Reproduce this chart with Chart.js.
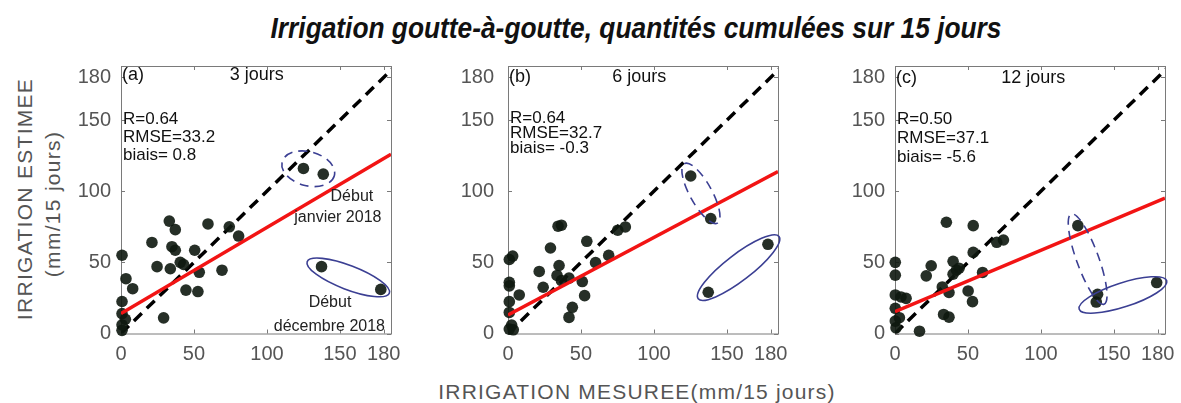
<!DOCTYPE html>
<html>
<head>
<meta charset="UTF-8">
<title>Irrigation goutte-à-goutte</title>
<script src="https://cdn.jsdelivr.net/npm/chart.js"></script>
<style>
    body {
        margin: 0;
        width: 1181px;
        height: 403px;
        background: #fff;
        position: relative;
        overflow: hidden;
        font-family: "Liberation Sans", Arial, sans-serif;
    }
    canvas { position: absolute; top: 0; }
    #title {
        position: absolute; left: 636px; top: 11px; white-space: nowrap;
        line-height: 30px; color: #111;
        font: italic bold 30px "Liberation Sans", sans-serif;
        transform: translateX(-50%) scaleX(0.877);
    }
    .ytitle {
        position: absolute; color: #555; font-size: 21px; letter-spacing: 1.3px; white-space: nowrap;
        transform: translate(-50%, -50%) rotate(-90deg);
    }
    #xtitle {
        position: absolute; left: 637px; top: 392px; color: #555; font-size: 21px; letter-spacing: 1.2px;
        white-space: nowrap; transform: translate(-50%, -50%);
    }
</style>
</head>
<body>
<div id="title">Irrigation goutte-à-goutte, quantités cumulées sur 15 jours</div>
<div class="ytitle" style="left:25px; top:199px">IRRIGATION ESTIMEE</div>
<div class="ytitle" style="left:53px; top:204px">(mm/15 jours)</div>
<div id="xtitle">IRRIGATION MESUREE(mm/15 jours)</div>

<canvas id="chart-a" width="370" height="403"></canvas>
<canvas id="chart-b" width="370" height="403"></canvas>
<canvas id="chart-c" width="370" height="403"></canvas>

<script>
    // graduations communes aux deux axes
    const ticksXY = [0, 50, 100, 150, 180];

    // (a) cumul 3 jours : mesuré / estimé
    const mesure3j = [0.7, 3.4, 8, 0.7, 0.7, 3, 0.7, 0.7, 29.2, 21.2, 24.7, 33.1, 37.2, 34.9, 37.2, 33.8,
        40.6, 42.9, 50.5, 53.6, 44.5, 52.7, 59.6, 69.2, 74.2, 80.6, 125, 138.6, 137.4, 178];
    const estime3j = [55, 38.5, 31.5, 22.5, 14, 10, 6, 2.2, 11, 64, 47, 79, 73, 61, 58.5, 45.5,
        50, 48.5, 58.5, 43, 30.5, 29.5, 77, 44.5, 75, 68.5, 116, 112, 47, 31];

    // (b) cumul 6 jours
    const mesure6j = [3.2, 0.9, 0.9, 0.9, 7.7, 0.9, 0.9, 2.5, 0.9, 3.6, 29.1, 21.4, 24.1, 34.3, 36.6, 35,
        33.6, 36.6, 41.8, 50.9, 52.5, 44.1, 41.8, 54, 60, 69, 75.2, 80.4, 125.2, 138.9, 137.2, 178.1];
    const estime6j = [54.4, 52, 36, 33.5, 27.1, 22.4, 14.8, 5.9, 3.1, 2.6, 60.1, 43.6, 32.5, 75.4, 76.1, 47.8,
        40.8, 37.2, 38.9, 36.5, 26.6, 18.4, 11.3, 64.8, 49.8, 54.9, 72.6, 74.9, 110.7, 80.8, 29, 62.7];

    // (c) cumul 12 jours
    const mesure12j = [0.2, 0.2, 0.2, 4.1, 7.6, 0.2, 3, 0.2, 0.7, 16.8, 35.2, 53.6, 24.8, 21.4, 39.8, 42.1,
        43.9, 39.8, 53.6, 60, 69.7, 74.3, 32.4, 37, 50.1, 53.1, 33.3, 37, 125.3, 138.8, 137.9, 179.3];
    const estime12j = [50, 41, 27.1, 25.7, 24.7, 17.7, 11.1, 8.7, 4, 1.6, 78.2, 75.8, 47.6, 40.5, 50.7, 44.5,
        45.9, 41.7, 57, 42.9, 64.1, 65.7, 32.7, 28.8, 29.9, 22.4, 13.4, 11.5, 75.8, 27.6, 22.1, 35.8];

    // droites de régression (ordonnée à l'origine, pente)
    const intercepts = [14, 13, 15.4];
    const slopes = [0.605, 0.545, 0.431];

    // statistiques affichées
    const statsR = ['0.64', '0.64', '0.50'];
    const statsRMSE = ['33.2', '32.7', '37.1'];
    const statsBiais = ['0.8', '-0.3', '-5.6'];
    const panelLabels = ['(a)', '(b)', '(c)'];
    const durees = ['3 jours', '6 jours', '12 jours'];

    const AXIS_MAX_X = 185, AXIS_MAX_Y = 188;
    const ELL_COLOR = '#3b3f93';

    const panels = [
        {
            id: 'chart-a', areaLeft: 121, tickPad: 10,
            xs: mesure3j, ys: estime3j,
            statsY: [150.4, 137.7, 125], labelY: 181.4, dureeX: 93,
            ellipses: [
                {x: 128.3, y: 115.8, a: 27, b: 17, rot: 15, dashed: true},
                {x: 155.7, y: 39.4, a: 44, b: 12, rot: 21, dashed: false}
            ],
            notes: [
                {text: 'Début', x: 158.2, y: 96.1},
                {text: 'janvier 2018', x: 148.6, y: 81.3},
                {text: 'Début', x: 143.2, y: 21.5},
                {text: 'décembre 2018', x: 142.8, y: 4.6}
            ]
        },
        {
            id: 'chart-b', areaLeft: 508, tickPad: 14,
            xs: mesure6j, ys: estime6j,
            statsY: [151.5, 140.7, 130], labelY: 180, dureeX: 90,
            ellipses: [
                {x: 132.2, y: 98.5, a: 34, b: 11, rot: 61, dashed: true},
                {x: 158, y: 46.3, a: 51, b: 13, rot: -37.6, dashed: false}
            ],
            notes: []
        },
        {
            id: 'chart-c', areaLeft: 895, tickPad: 10,
            xs: mesure12j, ys: estime12j,
            statsY: [150.4, 137.5, 124], labelY: 179.4, dureeX: 94.7,
            ellipses: [
                {x: 132, y: 52.3, a: 48, b: 11, rot: 70, dashed: true},
                {x: 156.2, y: 27.1, a: 46, b: 12, rot: -18, dashed: false}
            ],
            notes: []
        }
    ];

    // cadre type MATLAB : boîte grise et graduations vers l'intérieur sur les 4 côtés
    const boxPlugin = {
        id: 'box',
        beforeDatasetsDraw(chart) {
            const {ctx, chartArea: ca, scales} = chart;
            ctx.save();
            ctx.strokeStyle = '#7a7a7a';
            ctx.lineWidth = 1;
            ctx.strokeRect(ca.left + 0.5, ca.top + 0.5, ca.right - ca.left, ca.bottom - ca.top);
            ctx.beginPath();
            ticksXY.forEach(v => {
                const px = Math.round(scales.x.getPixelForValue(v)) + 0.5;
                const py = Math.round(scales.y.getPixelForValue(v)) + 0.5;
                ctx.moveTo(px, ca.bottom); ctx.lineTo(px, ca.bottom - 4);
                ctx.moveTo(px, ca.top); ctx.lineTo(px, ca.top + 4);
                ctx.moveTo(ca.left, py); ctx.lineTo(ca.left + 4, py);
                ctx.moveTo(ca.right, py); ctx.lineTo(ca.right - 4, py);
            });
            ctx.stroke();
            ctx.restore();
        },
        afterDatasetsDraw(chart, args, opts) {
            const p = opts.panel, i = opts.index;
            const {ctx, scales} = chart;
            const sx = v => scales.x.getPixelForValue(v);
            const sy = v => scales.y.getPixelForValue(v);
            ctx.save();

            p.ellipses.forEach(e => {
                ctx.beginPath();
                ctx.strokeStyle = ELL_COLOR;
                ctx.lineWidth = 1.6;
                ctx.setLineDash(e.dashed ? [9, 6] : []);
                ctx.ellipse(sx(e.x), sy(e.y), e.a, e.b, e.rot * Math.PI / 180, 0, 2 * Math.PI);
                ctx.stroke();
            });
            ctx.setLineDash([]);

            ctx.fillStyle = '#111';
            ctx.textBaseline = 'middle';
            ctx.font = '18px "Liberation Sans", Arial, sans-serif';
            ctx.textAlign = 'left';
            ctx.fillText(panelLabels[i], sx(0) + 1, sy(p.labelY));
            ctx.textAlign = 'center';
            ctx.fillText(durees[i], sx(p.dureeX), sy(p.labelY));

            ctx.font = '17px "Liberation Sans", Arial, sans-serif';
            ctx.textAlign = 'left';
            ctx.fillText('R=' + statsR[i], sx(0) + 2, sy(p.statsY[0]));
            ctx.fillText('RMSE=' + statsRMSE[i], sx(0) + 2, sy(p.statsY[1]));
            ctx.fillText('biais= ' + statsBiais[i], sx(0) + 2, sy(p.statsY[2]));

            ctx.font = '16px "Liberation Sans", Arial, sans-serif';
            ctx.fillStyle = '#222';
            ctx.textAlign = 'center';
            p.notes.forEach(n => ctx.fillText(n.text, sx(n.x), sy(n.y)));
            ctx.restore();
        }
    };

    panels.forEach((p, i) => {
        const canvas = document.getElementById(p.id);
        canvas.style.left = (p.areaLeft - 80) + 'px';
        const b = intercepts[i], m = slopes[i];

        new Chart(canvas.getContext('2d'), {
            type: 'scatter',
            data: {
                datasets: [
                    {
                        // régression (au-dessus)
                        data: [{x: 0, y: b}, {x: AXIS_MAX_X, y: b + m * AXIS_MAX_X}],
                        showLine: true,
                        borderColor: '#f21414',
                        borderWidth: 3.5,
                        pointRadius: 0
                    },
                    {
                        data: p.xs.map((x, k) => ({x: x, y: p.ys[k]})),
                        pointRadius: 5.8,
                        pointBackgroundColor: 'rgba(14,24,16,0.9)',
                        pointBorderWidth: 0,
                        clip: false
                    },
                    {
                        // droite 1:1
                        data: [{x: 0, y: 0}, {x: 190, y: 190}],
                        showLine: true,
                        borderColor: '#000',
                        borderWidth: 3.5,
                        borderDash: [11, 7],
                        pointRadius: 0
                    }
                ]
            },
            options: {
                responsive: false,
                animation: false,
                devicePixelRatio: 1,
                layout: {padding: {top: 66, right: 20, bottom: 39.5, left: 0}},
                plugins: {
                    legend: {display: false},
                    tooltip: {enabled: false},
                    box: {panel: p, index: i}
                },
                scales: {
                    x: {
                        type: 'linear', min: 0, max: AXIS_MAX_X,
                        afterBuildTicks: s => { s.ticks = ticksXY.map(v => ({value: v})); },
                        afterFit: s => { s.height = 30; },
                        grid: {display: false, drawTicks: false},
                        border: {display: false},
                        ticks: {
                            autoSkip: false, maxRotation: 0, padding: 9, color: '#555',
                            font: {family: 'Liberation Sans', size: 20}
                        }
                    },
                    y: {
                        type: 'linear', min: 0, max: AXIS_MAX_Y,
                        afterBuildTicks: s => { s.ticks = ticksXY.map(v => ({value: v})); },
                        afterFit: s => { s.width = 80; },
                        grid: {display: false, drawTicks: false},
                        border: {display: false},
                        ticks: {
                            autoSkip: false, padding: p.tickPad, color: '#555',
                            font: {family: 'Liberation Sans', size: 20}
                        }
                    }
                }
            },
            plugins: [boxPlugin]
        });
    });
</script>
</body>
</html>
